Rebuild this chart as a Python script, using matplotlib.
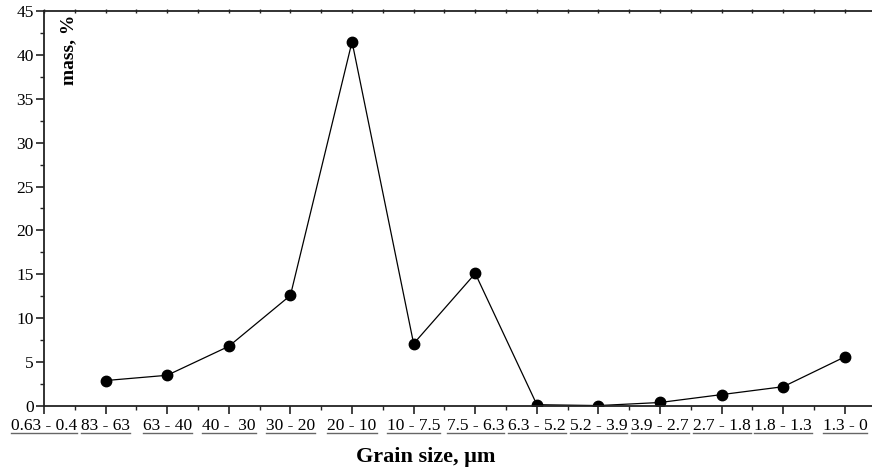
import matplotlib
matplotlib.use("Agg")
import matplotlib.pyplot as plt
from matplotlib.lines import Line2D
from matplotlib.ticker import MultipleLocator

plt.rcParams['font.family'] = ['Liberation Serif', 'DejaVu Serif']

# grain size fractions, um (first fraction has no measured value)
fractions = ["0.63 - 0.4", "83 - 63", "63 - 40", "40 -  30", "30 - 20", "20 - 10",
             "10 - 7.5", "7.5 - 6.3", "6.3 - 5.2", "5.2 - 3.9", "3.9 - 2.7",
             "2.7 - 1.8", "1.8 - 1.3", "1.3 - 0"]
# mass share of each fraction, %
mass = [2.9, 3.5, 6.8, 12.6, 41.5, 7.1, 15.1, 0.15, 0.05, 0.4, 1.3, 2.2, 5.6]

xpos = list(range(len(fractions)))

fig = plt.figure(figsize=(8.72, 4.68), dpi=100)
ax = fig.add_axes([44 / 872, 62 / 468, 1 - 44 / 872, 395 / 468])

ax.plot(xpos[1:], mass, '-', color='black', lw=0.9,
        marker='o', markersize=7.5, markerfacecolor='black', markeredgecolor='black')

ax.set_xlim(0, 13.44)
ax.set_ylim(0, 45)
ax.set_xticks(xpos)
ax.set_xticklabels(fractions)
ax.xaxis.set_minor_locator(MultipleLocator(0.5))
ax.yaxis.set_major_locator(MultipleLocator(5))
ax.yaxis.set_minor_locator(MultipleLocator(2.5))

for s in ['left', 'bottom', 'top']:
    ax.spines[s].set_linewidth(1.3)
    ax.spines[s].set_color('#222222')
ax.spines['right'].set_visible(False)

ax.tick_params(axis='both', which='major', direction='out', length=5.5, width=1.2,
               labelsize=12.5, pad=2, color='#222222')
ax.tick_params(axis='both', which='minor', direction='out', length=3, width=1.0,
               color='#222222')
ax.tick_params(axis='x', which='major', pad=3)

# tiny ticks along the top edge
top = ax.secondary_xaxis('top')
top.set_xticks(xpos)
top.xaxis.set_minor_locator(MultipleLocator(0.5))
top.tick_params(which='both', direction='inout', length=2.5, width=1.0,
                labeltop=False, color='#222222')
top.spines['top'].set_visible(False)

ax.text(0.020, 0.99, "mass, %", transform=ax.transAxes, rotation=90,
        ha='left', va='top', fontsize=14, fontweight='bold')
ax.set_xlabel("Grain size, \u03bcm", fontsize=16, fontweight='bold')
ax.xaxis.set_label_coords(0.461, -0.105)

# underline the fraction labels
fig.canvas.draw()
renderer = fig.canvas.get_renderer()
W, H = fig.bbox.width, fig.bbox.height
for lab in ax.get_xticklabels():
    bb = lab.get_window_extent(renderer)
    y = (bb.y0 + 1) / H
    fig.add_artist(Line2D([bb.x0 / W, bb.x1 / W], [y, y], color='#666666', lw=1.0,
                          transform=fig.transFigure))

fig.savefig("out.png", dpi=100)
